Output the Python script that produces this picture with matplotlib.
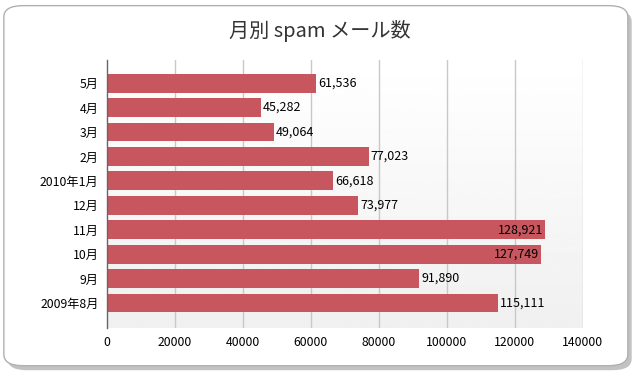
import matplotlib
matplotlib.use("Agg")
import matplotlib.pyplot as plt
import numpy as np
from matplotlib.patches import FancyBboxPatch

plt.rcParams["font.family"] = ["Noto Sans CJK JP", "DejaVu Sans"]

# data (bottom to top)
months = ["2009年8月", "9月", "10月", "11月", "12月", "2010年1月", "2月", "3月", "4月", "5月"]
spam_counts = [115111, 91890, 127749, 128921, 73977, 66618, 77023, 49064, 45282, 61536]
x_ticks = [0, 20000, 40000, 60000, 80000, 100000, 120000, 140000]

title = "月別 spam メール数"
bar_color = "#c8565e"

fig = plt.figure(figsize=(6.4, 3.77), dpi=100)

# card with shadow
shadow = FancyBboxPatch((0.012, 0.018), 0.975, 0.955, boxstyle="round,pad=0,rounding_size=0.03",
                        transform=fig.transFigure, facecolor="#9a9a9a", edgecolor="none", alpha=0.6, zorder=0)
card = FancyBboxPatch((0.006, 0.03), 0.975, 0.955, boxstyle="round,pad=0,rounding_size=0.03",
                      transform=fig.transFigure, facecolor="white", edgecolor="#b0b0b0", linewidth=1.0, zorder=1)
fig.patches.extend([shadow, card])

fig.text(0.5, 0.918, title, ha="center", va="center", fontsize=14.5, color="#333333")

ax = fig.add_axes([0.1672, 0.130, 0.7433, 0.711])
ax.set_zorder(2)

ypos = np.arange(len(months))
ax.set_xlim(0, 140000)
ax.set_ylim(-1.02, 9.95)

# gradient background
grad = np.linspace(0.94, 1.0, 256).reshape(-1, 1)
ax.imshow(grad, extent=[0, 140000, -1.02, 9.95], origin="lower", aspect="auto",
          cmap="gray", vmin=0, vmax=1, zorder=0)

for t in x_ticks[1:]:
    ax.axvline(t, color="#c8c8c8", linewidth=1, zorder=1)

ax.barh(ypos, spam_counts, height=0.77, color=bar_color, zorder=2)

for y, v in zip(ypos, spam_counts):
    label = f"{v:,}"
    if v > 120000:
        ax.text(v - 600, y, label, ha="right", va="center", fontsize=9, color="black", zorder=3)
    else:
        ax.text(v + 600, y, label, ha="left", va="center", fontsize=9, color="black", zorder=3)

ax.set_yticks(ypos)
ax.set_yticklabels(months, fontsize=8.8)
ax.set_xticks(x_ticks)
ax.set_xticklabels([str(t) for t in x_ticks], fontsize=8.8)
ax.tick_params(axis="both", length=0, pad=6)

for side in ["top", "right", "bottom"]:
    ax.spines[side].set_visible(False)
ax.spines["left"].set_color("#666666")
ax.spines["left"].set_linewidth(1)

fig.savefig("out.png", dpi=100)
